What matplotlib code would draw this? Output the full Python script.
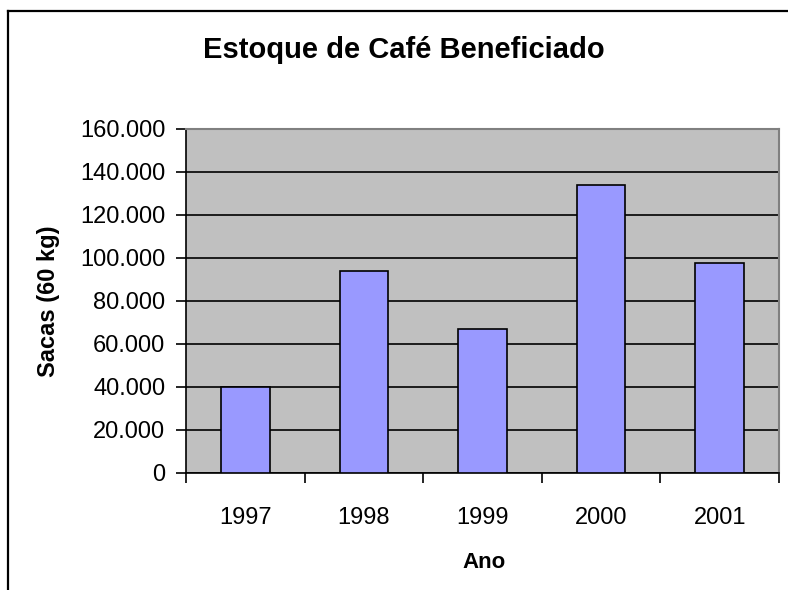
import matplotlib
matplotlib.use("Agg")
import matplotlib.pyplot as plt
from matplotlib.ticker import FuncFormatter, MultipleLocator
from matplotlib.lines import Line2D

plt.rcParams['font.family'] = ['Liberation Sans', 'DejaVu Sans']

years = ['1997', '1998', '1999', '2000', '2001']
sacas = [40000, 93600, 66700, 133700, 97400]
title = 'Estoque de Café Beneficiado'
xlabel = 'Ano'
ylabel = 'Sacas (60 kg)'

W, H = 788, 590
fig = plt.figure(figsize=(W / 100, H / 100), dpi=100)
left, right, top, bottom = 186, 779, 128.5, 472.5
ax = fig.add_axes([left / W, (H - bottom) / H, (right - left) / W, (bottom - top) / H])
ax.set_facecolor('#C0C0C0')

x = list(range(len(years)))
ax.bar(x, sacas, width=0.41, color='#9999FF', edgecolor='black', linewidth=1.2, zorder=3)

ax.set_ylim(0, 160000)
ax.set_xlim(-0.5, len(years) - 0.5)
ax.yaxis.set_major_locator(MultipleLocator(20000))
ax.yaxis.set_major_formatter(FuncFormatter(lambda v, p: f'{int(v):,}'.replace(',', '.')))
ax.grid(axis='y', color='black', linewidth=1.2, zorder=1)

ax.set_xticks(x)
ax.set_xticklabels(years)
ax.set_xticks([i - 0.5 for i in range(len(years) + 1)], minor=True)
ax.tick_params(axis='x', which='major', length=0, labelsize=17, pad=25)
ax.tick_params(axis='x', which='minor', length=7, width=1.2, direction='out')
ax.tick_params(axis='y', length=7, width=1.2, direction='out', labelsize=17, pad=8)

for s in ['left', 'bottom']:
    ax.spines[s].set_color('black')
    ax.spines[s].set_linewidth(1.2)
for s in ['top', 'right']:
    ax.spines[s].set_color('#808080')
    ax.spines[s].set_linewidth(1.5)

fig.text(403.5 / W, 1 - 50 / H, title, ha='center', va='center', fontsize=21, fontweight='bold')
fig.text(484 / W, 1 - 562 / H, xlabel, ha='center', va='center', fontsize=16, fontweight='bold')
fig.text(49 / W, 1 - 301 / H, ylabel, ha='center', va='center', fontsize=17, fontweight='bold', rotation=90)

# outer chart border (left and top visible)
fig.add_artist(Line2D([8 / W, 8 / W], [0, 1 - 11 / H], transform=fig.transFigure, color='black', linewidth=1.6))
fig.add_artist(Line2D([8 / W, 1], [1 - 11 / H, 1 - 11 / H], transform=fig.transFigure, color='black', linewidth=1.6))

fig.savefig('out.png', dpi=100)
